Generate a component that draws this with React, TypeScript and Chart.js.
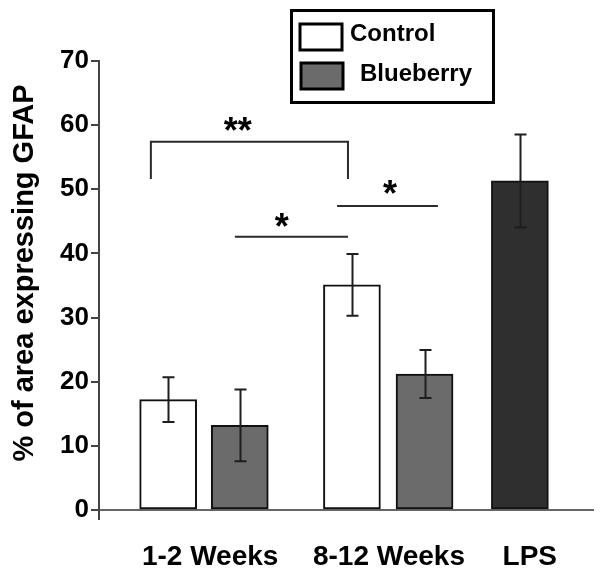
import React, { useEffect, useRef } from 'react';
import { Chart, registerables } from 'chart.js';

Chart.register(...registerables);

// ---- Data ----
const groupLabels = ['1-2 Weeks', '8-12 Weeks', 'LPS'];
const groupTickPositions = [2.25, 5.87, 8.72];

const seriesNames = ['Control', 'Blueberry', 'LPS'];
const controlPositions = [1.4, 5.12];
const controlValues = [17.2, 35.1];
const controlErrors = [3.5, 4.8];

const blueberryPositions = [2.85, 6.59];
const blueberryValues = [13.2, 21.2];
const blueberryErrors = [5.6, 3.75];

const lpsPositions = [8.52];
const lpsValues = [51.3];
const lpsErrors = [7.25];

const yMin = 0;
const yMax = 70;
const yStep = 10;

const yTitle = '% of area expressing GFAP';

// significance annotations, in data coordinates
const bracketX = [1.05, 5.04];
const bracketY = [57.4, 51.6];
const bracketLabel = { text: '**', x: 2.81, y: 60.4 };
const sigLineX1 = [2.75, 4.82];
const sigLineX2 = [5.04, 6.86];
const sigLineY = [42.6, 47.4];
const sigLabels = ['*', '*'];
const sigLabelX = [3.7, 5.89];
const sigLabelY = [45.4, 50.6];

const errorSets = [controlErrors, blueberryErrors, lpsErrors];

const FONT = '"Liberation Sans", Arial, Helvetica, sans-serif';

const annotationPlugin = {
  id: 'gfapAnnotations',
  afterDatasetsDraw(chart: any) {
    const ctx = chart.ctx;
    const yS = chart.scales.y;
    ctx.save();
    ctx.strokeStyle = '#1e1e1e';
    ctx.lineWidth = 2;
    chart.data.datasets.forEach((ds: any, di: number) => {
      const meta = chart.getDatasetMeta(di);
      const errs = errorSets[di];
      meta.data.forEach((el: any, i: number) => {
        const v = ds.data[i].y;
        const e = errs[i];
        const x = Math.round(el.x) + 0.5;
        const yt = yS.getPixelForValue(v + e);
        const yb = yS.getPixelForValue(v - e);
        ctx.beginPath();
        ctx.moveTo(x, yt);
        ctx.lineTo(x, yb);
        ctx.moveTo(x - 6, yt);
        ctx.lineTo(x + 6, yt);
        ctx.moveTo(x - 6, yb);
        ctx.lineTo(x + 6, yb);
        ctx.stroke();
      });
    });
    ctx.restore();
  },
  afterDraw(chart: any) {
    const ctx = chart.ctx;
    const xS = chart.scales.x;
    const yS = chart.scales.y;
    const area = chart.chartArea;
    ctx.save();

    // y axis extension below zero
    ctx.strokeStyle = '#444';
    ctx.lineWidth = 2;
    ctx.beginPath();
    ctx.moveTo(area.left, area.bottom);
    ctx.lineTo(area.left, area.bottom + 10);
    ctx.stroke();

    // y axis title
    ctx.save();
    ctx.fillStyle = '#000';
    ctx.font = `bold 29px ${FONT}`;
    ctx.textAlign = 'center';
    ctx.textBaseline = 'alphabetic';
    ctx.translate(33, 273);
    ctx.rotate(-Math.PI / 2);
    ctx.fillText(yTitle, 0, 0);
    ctx.restore();

    // bracket
    ctx.strokeStyle = '#2a2a2a';
    ctx.lineWidth = 2;
    const bx1 = xS.getPixelForValue(bracketX[0]);
    const bx2 = xS.getPixelForValue(bracketX[1]);
    const byT = yS.getPixelForValue(bracketY[0]);
    const byE = yS.getPixelForValue(bracketY[1]);
    ctx.beginPath();
    ctx.moveTo(bx1, byE);
    ctx.lineTo(bx1, byT);
    ctx.lineTo(bx2, byT);
    ctx.lineTo(bx2, byE);
    ctx.stroke();

    // lines
    for (let i = 0; i < sigLineY.length; i++) {
      const y = yS.getPixelForValue(sigLineY[i]);
      ctx.beginPath();
      ctx.moveTo(xS.getPixelForValue(sigLineX1[i]), y);
      ctx.lineTo(xS.getPixelForValue(sigLineX2[i]), y);
      ctx.stroke();
    }

    // stars
    ctx.fillStyle = '#000';
    const starSize = 36;
    ctx.font = `bold ${starSize}px ${FONT}`;
    ctx.textAlign = 'center';
    ctx.textBaseline = 'alphabetic';
    const drawStar = (t: string, xv: number, yv: number) => {
      const px = xS.getPixelForValue(xv);
      const py = yS.getPixelForValue(yv);
      ctx.fillText(t, px, py + starSize * 0.57);
    };
    drawStar(bracketLabel.text, bracketLabel.x, bracketLabel.y);
    for (let i = 0; i < sigLabels.length; i++) {
      drawStar(sigLabels[i], sigLabelX[i], sigLabelY[i]);
    }

    // legend box
    ctx.strokeStyle = '#000';
    ctx.lineWidth = 3;
    ctx.strokeRect(291.5, 10.5, 202, 92);
    const swatches = [
      { x: 300, y: 24, fill: '#ffffff' },
      { x: 301, y: 63, fill: '#6b6b6b' },
    ];
    const textPos = [
      { x: 350, y: 34 },
      { x: 360, y: 74 },
    ];
    for (let i = 0; i < 2; i++) {
      const s = swatches[i];
      ctx.fillStyle = s.fill;
      ctx.fillRect(s.x, s.y, 42, 26);
      ctx.lineWidth = 3;
      ctx.strokeRect(s.x, s.y, 42, 26);
      ctx.fillStyle = '#000';
      ctx.font = `bold 24px ${FONT}`;
      ctx.textAlign = 'left';
      ctx.textBaseline = 'middle';
      ctx.fillText(seriesNames[i], textPos[i].x, textPos[i].y);
    }
    ctx.restore();
  },
};

export default function App() {
  const canvasRef = useRef<HTMLCanvasElement | null>(null);

  useEffect(() => {
    document.body.style.margin = '0';
    const canvas = canvasRef.current;
    if (!canvas) return;

    const toPoints = (xs: number[], ys: number[]) => xs.map((x, i) => ({ x, y: ys[i] }));

    const barStyle = {
      borderColor: '#111111',
      borderWidth: 2,
      borderSkipped: false,
      grouped: false,
      barThickness: 57,
    };

    const chart = new Chart(canvas, {
      type: 'bar',
      data: {
        datasets: [
          {
            label: seriesNames[0],
            data: toPoints(controlPositions, controlValues),
            backgroundColor: '#ffffff',
            ...barStyle,
          },
          {
            label: seriesNames[1],
            data: toPoints(blueberryPositions, blueberryValues),
            backgroundColor: '#6b6b6b',
            ...barStyle,
          },
          {
            label: seriesNames[2],
            data: toPoints(lpsPositions, lpsValues),
            backgroundColor: '#2f2f2f',
            ...barStyle,
          },
        ] as any,
      },
      options: {
        animation: false,
        responsive: false,
        devicePixelRatio: 1,
        layout: { padding: { top: 61, right: 7, left: 0, bottom: 0 } },
        plugins: {
          legend: { display: false },
          tooltip: { enabled: false },
        },
        scales: {
          x: {
            type: 'linear',
            min: 0,
            max: 10,
            offset: false,
            grid: { display: false, drawTicks: false, offset: false },
            border: { display: true, color: '#666', width: 2 },
            afterBuildTicks: (scale: any) => {
              scale.ticks = groupTickPositions.map((v) => ({ value: v }));
            },
            afterFit: (scale: any) => {
              scale.height = 63;
            },
            ticks: {
              autoSkip: false,
              maxRotation: 0,
              padding: 30,
              color: '#000',
              font: { family: FONT, size: 28, weight: 'bold' },
              callback: (value: any) => {
                const idx = groupTickPositions.indexOf(Number(value));
                return idx >= 0 ? groupLabels[idx] : '';
              },
            },
          },
          y: {
            min: yMin,
            max: yMax,
            grid: {
              display: true,
              drawOnChartArea: false,
              drawTicks: true,
              tickLength: 8,
              color: '#444',
              lineWidth: 2,
            },
            border: { display: true, color: '#444', width: 2 },
            afterFit: (scale: any) => {
              scale.width = 99;
            },
            ticks: {
              stepSize: yStep,
              padding: 2,
              color: '#000',
              font: { family: FONT, size: 26, weight: 'bold' },
            },
            title: { display: false },
          },
        },
      } as any,
      plugins: [annotationPlugin],
    });

    return () => chart.destroy();
  }, []);

  return (
    <div style={{ width: 600, height: 573 }}>
      <canvas ref={canvasRef} width={600} height={573} style={{ display: 'block' }} />
    </div>
  );
}
